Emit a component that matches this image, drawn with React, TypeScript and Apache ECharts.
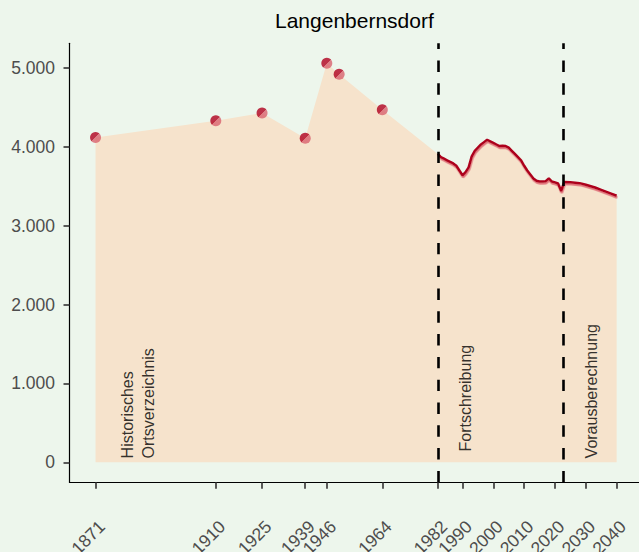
import React, { useEffect, useRef } from "react";
import * as echarts from "echarts";

const TITLE = "Langenbernsdorf";

const HIST_YEARS = [1871, 1910, 1925, 1939, 1946, 1950, 1964];
const HIST_VALUES = [4120, 4330, 4430, 4110, 5060, 4920, 4470];

const FORT_YEARS = [
  1982, 1983, 1984, 1985, 1986, 1987, 1988, 1989, 1990, 1991, 1992, 1993, 1994,
  1995, 1996, 1997, 1998, 1999, 2000, 2001, 2002, 2003, 2004, 2005, 2006, 2007,
  2008, 2009, 2010, 2011, 2012, 2013, 2014, 2015, 2016, 2017, 2018, 2019, 2020,
  2021, 2022, 2023, 2025, 2028, 2030, 2033, 2035, 2038, 2040,
];
const FORT_VALUES = [
  3910, 3870, 3850, 3830, 3810, 3790, 3760, 3700, 3640, 3680, 3740, 3880, 3950,
  3990, 4030, 4060, 4090, 4070, 4050, 4030, 4010, 4015, 4010, 3990, 3950, 3910,
  3870, 3830, 3760, 3700, 3650, 3600, 3570, 3560, 3560, 3565, 3600, 3560, 3550,
  3535, 3440, 3555, 3550, 3540, 3520, 3485, 3455, 3410, 3380,
];

const X_TICKS = [1871, 1910, 1925, 1939, 1946, 1964, 1982, 1990, 2000, 2010, 2020, 2030, 2040];
const Y_TICKS = [0, 1000, 2000, 3000, 4000, 5000];

const PERIOD_BOUNDS = [1982, 2022.6];

const ANNOT_X = [1884.8, 1991.1, 2031.8];
const ANNOT_Y = [50, 137, 50];
const ANNOT_TEXT = ["Historisches\nOrtsverzeichnis", "Fortschreibung", "Vorausberechnung"];

const fmt = (v: number) => String(v).replace(/\B(?=(\d{3})+(?!\d))/g, ".");

const FONT = "Liberation Sans, Arial, sans-serif";

export default function App() {
  const ref = useRef<HTMLDivElement>(null);
  useEffect(() => {
    if (!ref.current) return;
    const chart = echarts.init(ref.current, null, { renderer: "svg" });
    const hist = HIST_YEARS.map((y, i) => [y, HIST_VALUES[i]]);
    const fort = FORT_YEARS.map((y, i) => [y, FORT_VALUES[i]]);
    const all = [...hist, ...fort];
    const annots = ANNOT_X.map((x, i) => [x, ANNOT_Y[i], ANNOT_TEXT[i]]);
    chart.setOption({
      animation: false,
      backgroundColor: "#edf6ec",
      title: {
        text: TITLE,
        left: 275,
        top: 10,
        padding: 0,
        textStyle: { fontSize: 21, fontWeight: "normal", color: "#000", fontFamily: FONT },
      },
      grid: {
        left: 69.5,
        top: 43.3,
        width: 573.2,
        height: 439,
        containLabel: false,
        outerBoundsMode: "none",
      },
      xAxis: {
        type: "value",
        min: 1862.55,
        max: 2048.45,
        splitLine: { show: false },
        axisLine: { show: true, onZero: false, lineStyle: { color: "#000", width: 1.2 } },
        axisTick: {
          show: true,
          length: 6.5,
          customValues: X_TICKS,
          lineStyle: { color: "#333", width: 1.6 },
        },
        axisLabel: {
          customValues: X_TICKS,
          formatter: (v: number) => String(v),
          rotate: 45,
          align: "right",
          verticalAlign: "top",
          margin: 35,
          fontSize: 17.5,
          color: "#4d4d4d",
          fontFamily: FONT,
        },
      },
      yAxis: {
        type: "value",
        min: -253,
        max: 5313,
        splitLine: { show: false },
        axisLine: { show: true, onZero: false, lineStyle: { color: "#000", width: 1.2 } },
        axisTick: {
          show: true,
          length: 6,
          customValues: Y_TICKS,
          lineStyle: { color: "#333", width: 1.6 },
        },
        axisLabel: {
          customValues: Y_TICKS,
          formatter: (v: number) => fmt(v),
          margin: 14.5,
          fontSize: 17.5,
          color: "#4d4d4d",
          fontFamily: FONT,
        },
      },
      series: [
        {
          type: "line",
          data: all,
          symbol: "none",
          lineStyle: { width: 0, opacity: 0 },
          areaStyle: { color: "#f6e3cc", opacity: 1 },
          silent: true,
          z: 1,
        },
        {
          type: "line",
          data: fort,
          symbol: "none",
          lineStyle: {
            width: 2.5,
            color: "#ad001c",
            shadowColor: "rgba(222,100,112,0.9)",
            shadowOffsetY: 1.8,
            shadowOffsetX: 0.6,
            shadowBlur: 0,
          },
          silent: true,
          z: 3,
        },
        {
          type: "scatter",
          data: hist,
          symbol: "circle",
          symbolSize: 11,
          itemStyle: {
            color: new echarts.graphic.LinearGradient(0, 0, 1, 1, [
              { offset: 0, color: "#b0001e" },
              { offset: 0.5, color: "#b0001e" },
              { offset: 0.5, color: "#d9626e" },
              { offset: 1, color: "#d9626e" },
            ]),
          },
          silent: true,
          z: 4,
        },
        {
          type: "line",
          data: [],
          silent: true,
          z: 5,
          markLine: {
            silent: true,
            symbol: ["none", "none"],
            label: { show: false },
            lineStyle: { type: [11.4, 11.4], width: 2.6, color: "#000" },
            data: PERIOD_BOUNDS.map((b) => ({ xAxis: b })),
          },
        },
        {
          type: "scatter",
          data: annots,
          symbolSize: 0,
          silent: true,
          z: 6,
          label: {
            show: true,
            position: "inside",
            formatter: (p: any) => p.data[2],
            rotate: 90,
            align: "left",
            verticalAlign: "middle",
            fontSize: 16,
            lineHeight: 21.3,
            color: "#000",
            fontFamily: FONT,
          },
        },
      ],
    });
    return () => chart.dispose();
  }, []);
  return (
    <div
      ref={ref}
      style={{ position: "fixed", left: 0, top: 0, width: 639, height: 552, background: "#edf6ec" }}
    />
  );
}
